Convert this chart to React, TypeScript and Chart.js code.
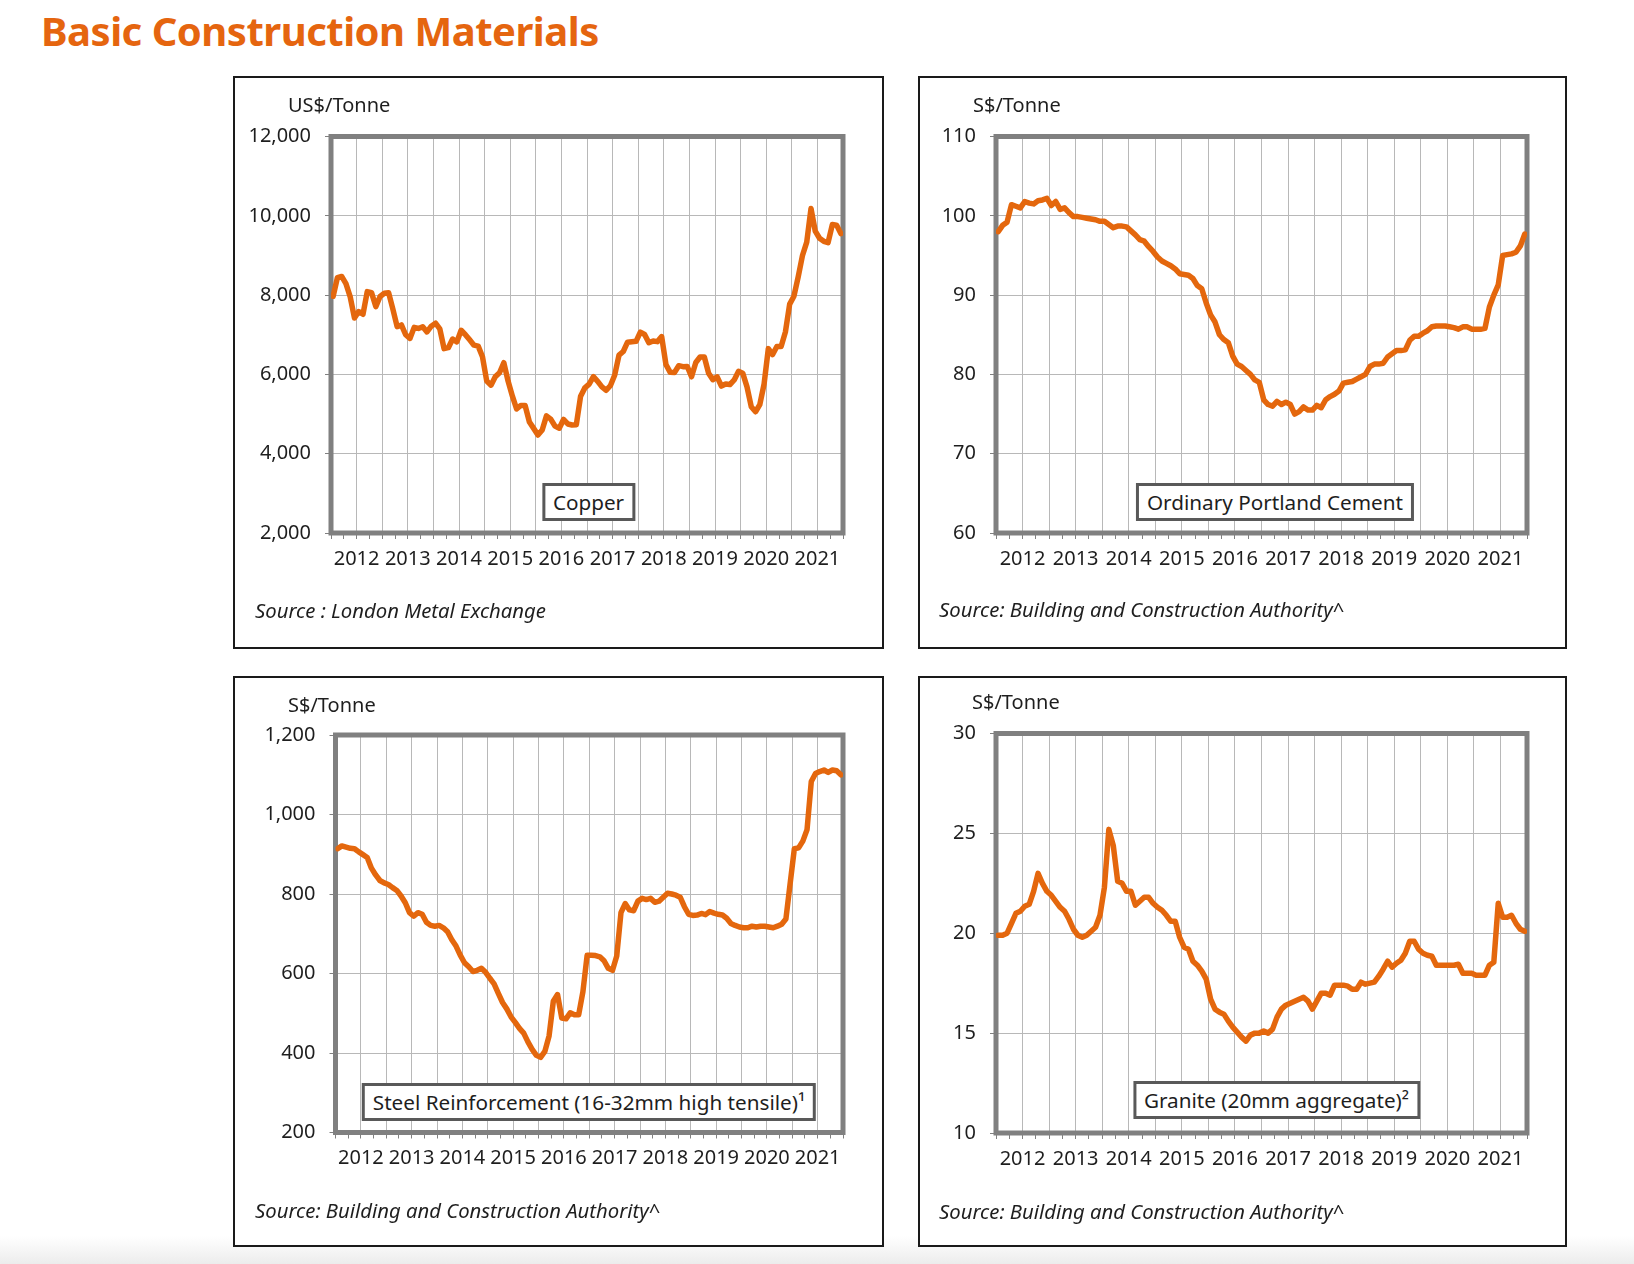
import React, { useEffect, useRef } from "react";
import { Chart, registerables } from "chart.js";

Chart.register(...registerables);

// ---------- data (monthly, Jan 2012 – Dec 2021) ----------
const yearLabels = ["2012", "2013", "2014", "2015", "2016", "2017", "2018", "2019", "2020", "2021"];

const copperValues = [
  7970, 8441, 8471, 8289, 7956, 7423, 7584, 7516, 8088, 8062, 7711, 7966,
  8047, 8061, 7645, 7203, 7247, 7000, 6907, 7186, 7159, 7203, 7071, 7215,
  7291, 7149, 6650, 6674, 6891, 6821, 7113, 7002, 6872, 6737, 6713, 6446,
  5831, 5729, 5940, 6042, 6295, 5833, 5457, 5127, 5217, 5216, 4800, 4639,
  4472, 4599, 4954, 4873, 4695, 4642, 4864, 4750, 4723, 4731, 5451, 5660,
  5755, 5941, 5825, 5684, 5600, 5720, 5985, 6485, 6578, 6812, 6826, 6834,
  7065, 7007, 6799, 6843, 6826, 6952, 6250, 6052, 6050, 6220, 6195, 6200,
  5939, 6300, 6439, 6438, 6030, 5868, 5940, 5707, 5760, 5744, 5859, 6077,
  6031, 5687, 5183, 5058, 5239, 5755, 6650, 6500, 6703, 6703, 7069, 7772,
  7972, 8460, 8999, 9336, 10184, 9612, 9434, 9357, 9323, 9778, 9765, 9551,
];

const cementValues = [
  98.0, 98.8, 99.2, 101.4, 101.2, 101.0, 101.8, 101.6, 101.5, 101.9, 102.0, 102.2,
  101.3, 101.8, 100.8, 101.0, 100.4, 99.9, 99.9, 99.8, 99.7, 99.6, 99.5, 99.3,
  99.3, 98.9, 98.5, 98.7, 98.7, 98.6, 98.1, 97.6, 97.0, 96.8, 96.1, 95.5,
  94.8, 94.3, 94.0, 93.7, 93.3, 92.7, 92.6, 92.5, 92.1, 91.2, 90.8, 89.0,
  87.5, 86.6, 85.0, 84.4, 84.0, 82.3, 81.3, 81.0, 80.5, 80.0, 79.3, 79.0,
  76.8, 76.2, 76.0, 76.6, 76.2, 76.5, 76.2, 75.0, 75.3, 75.9, 75.5, 75.5,
  76.1, 75.8, 76.8, 77.2, 77.5, 77.9, 78.9, 79.0, 79.1, 79.4, 79.7, 80.0,
  81.0, 81.3, 81.3, 81.4, 82.2, 82.6, 83.0, 83.0, 83.1, 84.3, 84.8, 84.8,
  85.2, 85.5, 86.0, 86.1, 86.1, 86.1, 86.0, 85.9, 85.7, 86.0, 86.0, 85.7,
  85.7, 85.7, 85.8, 88.5, 90.0, 91.3, 95.0, 95.1, 95.2, 95.4, 96.2, 97.7,
];

const steelValues = [
  914, 921, 918, 915, 914, 906, 899, 892, 865, 848, 834, 828,
  824, 816, 809, 795, 778, 753, 744, 753, 749, 729, 721, 719,
  721, 715, 705, 685, 669, 646, 627, 617, 605, 608, 613, 603,
  588, 574, 550, 527, 511, 491, 477, 462, 450, 428, 409, 394,
  389, 404, 443, 530, 547, 488, 486, 501, 496, 496, 554, 646,
  646, 645, 642, 632, 613, 608, 644, 753, 776, 760, 758, 782,
  789, 786, 789, 779, 782, 792, 802, 800, 797, 792, 768, 749,
  746, 747, 751, 748, 756, 752, 749, 747, 739, 726, 721, 717,
  715, 715, 719, 717, 719, 719, 717, 715, 719, 724, 737, 826,
  914, 916, 933, 962, 1083, 1103, 1108, 1112, 1106, 1112, 1110, 1100,
];

const graniteValues = [
  19.9, 19.9, 20.0, 20.5, 21.0, 21.1, 21.35, 21.45, 22.1, 23.0, 22.5, 22.1,
  21.9, 21.6, 21.3, 21.1, 20.7, 20.2, 19.9, 19.8, 19.9, 20.1, 20.3, 20.9,
  22.3, 25.2, 24.4, 22.6, 22.5, 22.1, 22.1, 21.4, 21.6, 21.8, 21.8, 21.5,
  21.3, 21.15, 20.9, 20.6, 20.6, 19.8, 19.3, 19.2, 18.6, 18.4, 18.1, 17.7,
  16.7, 16.2, 16.05, 15.95, 15.6, 15.3, 15.05, 14.8, 14.6, 14.9, 15.0, 15.0,
  15.1, 15.0, 15.2, 15.8, 16.2, 16.4, 16.5, 16.6, 16.7, 16.8, 16.6, 16.2,
  16.6, 17.0, 17.0, 16.9, 17.4, 17.4, 17.4, 17.35, 17.2, 17.2, 17.55, 17.45,
  17.5, 17.55, 17.85, 18.2, 18.6, 18.3, 18.5, 18.65, 19.0, 19.6, 19.6, 19.2,
  19.0, 18.9, 18.85, 18.4, 18.4, 18.4, 18.4, 18.4, 18.45, 18.0, 18.0, 18.0,
  17.9, 17.9, 17.9, 18.4, 18.55, 21.5, 20.8, 20.8, 20.9, 20.5, 20.2, 20.1,
];

// ---------- styling ----------
const ORANGE = "#E4670D";
const FRAME = "#808080";
const GRID = "#b8b8b8";
const TEXT = "#1e1e1e";
const FONT = "'Noto Sans', 'Open Sans', sans-serif";
const AXIS_FONT = 20;
const NOTE_FONT = 20.3;
const LABEL_FONT = 20.7;

type PanelDef = {
  box: { l: number; t: number; r: number; b: number };
  plot: { l: number; t: number; r: number; b: number };
  values: number[];
  yMin: number;
  yMax: number;
  yStep: number;
  unit: string;
  unitPos: { x: number; base: number };
  source: string;
  sourcePos: { x: number; base: number };
  label: React.ReactNode;
  labelPos: { cx: number; top: number };
};

const panels: PanelDef[] = [
  {
    box: { l: 233, t: 76, r: 884, b: 649 },
    plot: { l: 331, t: 136.5, r: 843, b: 533 },
    values: copperValues, yMin: 2000, yMax: 12000, yStep: 2000,
    unit: "US$/Tonne", unitPos: { x: 288, base: 113 },
    source: "Source : London Metal Exchange", sourcePos: { x: 255, base: 618 },
    label: "Copper", labelPos: { cx: 588.5, top: 483 },
  },
  {
    box: { l: 918, t: 76, r: 1567, b: 649 },
    plot: { l: 996, t: 136.5, r: 1527, b: 533 },
    values: cementValues, yMin: 60, yMax: 110, yStep: 10,
    unit: "S$/Tonne", unitPos: { x: 973, base: 113 },
    source: "Source: Building and Construction Authority^", sourcePos: { x: 939, base: 617.5 },
    label: "Ordinary Portland Cement", labelPos: { cx: 1275, top: 483 },
  },
  {
    box: { l: 233, t: 676, r: 884, b: 1247 },
    plot: { l: 335.5, t: 735, r: 843, b: 1132.5 },
    values: steelValues, yMin: 200, yMax: 1200, yStep: 200,
    unit: "S$/Tonne", unitPos: { x: 288, base: 713 },
    source: "Source: Building and Construction Authority^", sourcePos: { x: 255, base: 1218 },
    label: "Steel Reinforcement (16-32mm high tensile)\u00B9", labelPos: { cx: 589, top: 1083 },
  },
  {
    box: { l: 918, t: 676, r: 1567, b: 1247 },
    plot: { l: 996, t: 733.5, r: 1527, b: 1133 },
    values: graniteValues, yMin: 10, yMax: 30, yStep: 5,
    unit: "S$/Tonne", unitPos: { x: 972, base: 710 },
    source: "Source: Building and Construction Authority^", sourcePos: { x: 939, base: 1219.5 },
    label: "Granite (20mm aggregate)\u00B2", labelPos: { cx: 1276.5, top: 1081 },
  },
];

const X_AXIS_H = 50;

const framePlugin = {
  id: "frame",
  beforeDatasetsDraw(chart: any) {
    const { ctx, chartArea } = chart;
    ctx.save();
    ctx.strokeStyle = FRAME;
    ctx.lineWidth = 5;
    ctx.lineJoin = "miter";
    ctx.strokeRect(chartArea.left, chartArea.top, chartArea.right - chartArea.left, chartArea.bottom - chartArea.top);
    ctx.restore();
  },
};

function textTop(base: number, size: number) {
  const lh = size * 1.2;
  return base - (lh / 2 + 0.388 * size);
}

function PanelChart({ p }: { p: PanelDef }) {
  const ref = useRef<HTMLCanvasElement | null>(null);
  const w = p.box.r - p.box.l;
  const h = p.box.b - p.box.t;
  useEffect(() => {
    if (!ref.current) return;
    const yAxisW = p.plot.l - p.box.l - 2;
    const tickVals: number[] = [];
    for (let v = 0; v <= 120; v += 3) tickVals.push(v);
    const chart = new Chart(ref.current, {
      type: "line",
      data: {
        datasets: [
          {
            data: p.values.map((v, i) => ({ x: i + 0.5, y: v })),
            borderColor: ORANGE,
            borderWidth: 5.5,
            pointRadius: 0,
            tension: 0,
            borderJoinStyle: "round",
            borderCapStyle: "round",
            fill: false,
          },
        ],
      },
      options: {
        animation: false,
        responsive: false,
        maintainAspectRatio: false,
        events: [],
        layout: {
          padding: {
            left: 2,
            top: p.plot.t - p.box.t,
            right: p.box.r - p.plot.r,
            bottom: p.box.b - p.plot.b - X_AXIS_H,
          },
        },
        plugins: { legend: { display: false }, tooltip: { enabled: false }, title: { display: false } },
        scales: {
          x: {
            type: "linear",
            min: 0,
            max: 120,
            afterBuildTicks: (s: any) => {
              s.ticks = tickVals.map((v) => ({ value: v }));
            },
            afterFit: (s: any) => {
              s.height = X_AXIS_H;
            },
            ticks: {
              autoSkip: false,
              maxRotation: 0,
              minRotation: 0,
              padding: 8,
              color: TEXT,
              font: { family: FONT, size: AXIS_FONT },
              callback: (v: any) => {
                const n = Number(v);
                if ((n - 6) % 12 === 0) return yearLabels[(n - 6) / 12] ?? "";
                return "";
              },
            },
            grid: {
              color: (c: any) => (c.tick && c.tick.value % 6 === 0 ? GRID : "rgba(0,0,0,0)"),
              tickColor: FRAME,
              tickLength: 6,
              lineWidth: 1,
            },
            border: { display: false },
          },
          y: {
            min: p.yMin,
            max: p.yMax,
            afterFit: (s: any) => {
              s.width = yAxisW;
            },
            ticks: {
              stepSize: p.yStep,
              padding: 14,
              color: TEXT,
              font: { family: FONT, size: AXIS_FONT },
              callback: (v: any) => Number(v).toLocaleString("en-US"),
            },
            grid: { color: GRID, tickColor: FRAME, tickLength: 6, lineWidth: 1 },
            border: { display: false },
          },
        },
      } as any,
      plugins: [framePlugin],
    } as any);
    return () => chart.destroy();
  }, [p]);

  return (
    <canvas
      ref={ref}
      width={w}
      height={h}
      style={{ position: "absolute", left: p.box.l, top: p.box.t, width: w, height: h }}
    />
  );
}

export default function App() {
  return (
    <div
      style={{
        position: "absolute",
        left: 0,
        top: 0,
        width: 1634,
        height: 1264,
        background: "#ffffff",
        overflow: "hidden",
        fontFamily: FONT,
        color: TEXT,
      }}
    >
      <div
        style={{
          position: "absolute",
          left: 0,
          top: 1236,
          width: 1634,
          height: 28,
          background: "linear-gradient(#ffffff, #ececec)",
        }}
      />
      <div
        style={{
          position: "absolute",
          left: 41,
          top: textTop(47, 40),
          fontSize: 40,
          lineHeight: "48px",
          fontWeight: 700,
          color: "#E5650F",
          whiteSpace: "nowrap",
          letterSpacing: "-0.5px",
        }}
      >
        Basic Construction Materials
      </div>
      {panels.map((p, i) => (
        <React.Fragment key={i}>
          <div
            style={{
              position: "absolute",
              left: p.box.l,
              top: p.box.t,
              width: p.box.r - p.box.l,
              height: p.box.b - p.box.t,
              border: "2px solid #1a1a1a",
              boxSizing: "border-box",
              background: "#ffffff",
            }}
          />
          <PanelChart p={p} />
          <div
            style={{
              position: "absolute",
              left: p.unitPos.x,
              top: textTop(p.unitPos.base, AXIS_FONT),
              fontSize: AXIS_FONT,
              lineHeight: `${AXIS_FONT * 1.2}px`,
              whiteSpace: "nowrap",
            }}
          >
            {p.unit}
          </div>
          <div
            style={{
              position: "absolute",
              left: p.sourcePos.x,
              top: textTop(p.sourcePos.base, NOTE_FONT),
              fontSize: NOTE_FONT,
              lineHeight: `${NOTE_FONT * 1.2}px`,
              fontStyle: "italic",
              whiteSpace: "nowrap",
            }}
          >
            {p.source}
          </div>
          <div
            style={{
              position: "absolute",
              left: p.labelPos.cx,
              top: p.labelPos.top,
              transform: "translateX(-50%)",
              height: 38,
              boxSizing: "border-box",
              border: "3px solid #595959",
              background: "#ffffff",
              padding: "0 8px",
              fontSize: LABEL_FONT,
              lineHeight: "32px",
              whiteSpace: "nowrap",
            }}
          >
            {p.label}
          </div>
        </React.Fragment>
      ))}
    </div>
  );
}
